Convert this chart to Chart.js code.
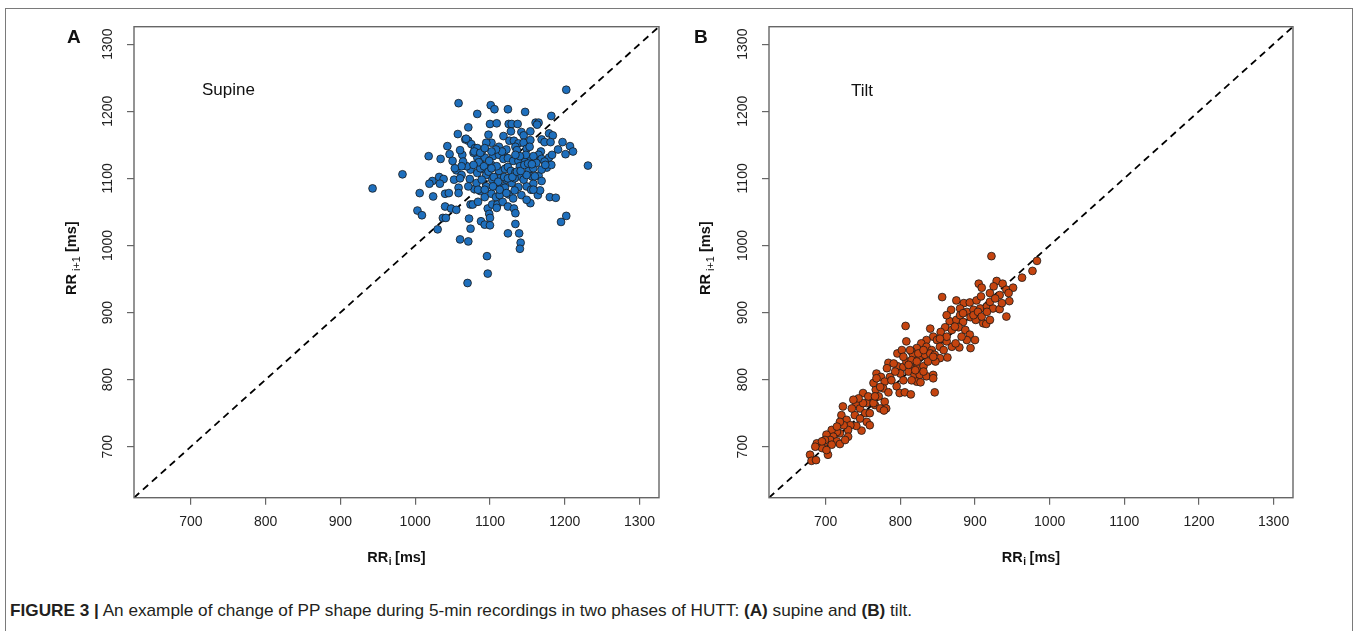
<!DOCTYPE html>
<html><head><meta charset="utf-8">
<script src="https://cdn.jsdelivr.net/npm/chart.js@4.4.1/dist/chart.umd.min.js"></script>
<style>
html,body{margin:0;padding:0;background:#fff;width:1358px;height:631px;overflow:hidden;font-family:"Liberation Sans",Arial,sans-serif}
#frame{position:absolute;left:5px;top:8px;width:1348px;height:700px;border:1.5px solid #7a7a7a;box-sizing:border-box}
canvas{position:absolute;top:0}
#caption{position:absolute;left:10px;top:601px;font-size:17px;line-height:20px;white-space:nowrap;transform-origin:0 0;color:#231f20}
</style></head>
<body>
<div id="frame"></div>
<canvas id="cA" width="680" height="580" style="left:0px"></canvas>
<canvas id="cB" width="678" height="580" style="left:680px"></canvas>
<div id="caption"><b>FIGURE 3 |</b> An example of change of PP shape during 5-min recordings in two phases of HUTT: <b>(A)</b> supine and <b>(B)</b> tilt.</div>
<script>
// ---- data ----
const axisRange = [624, 1326];
const tickValues = [700, 800, 900, 1000, 1100, 1200, 1300];
const identityLine = [624, 1326];

const supineRRi = [1202,1058,1101,1106,1124,1083,1147,1182,1100,1109,1071,1125,1129,1137,1161,1165,1163,1057,1098,1102,1118,1128,1142,1145,1154,1179,1184,1067,1071,1095,1126,1132,1138,1145,1154,1169,1173,1181,1197,1207,1043,1075,1080,1112,1119,1134,1136,1149,1153,1168,1165,1191,1201,1211,1018,1034,1046,1050,1063,1083,1087,1093,1104,1112,1118,1124,1131,1138,1147,1155,1160,1169,1179,1183,1231,983,943,1023,1019,1032,1038,1033,1055,1062,1052,1058,1074,1073,1083,1091,1095,1103,1112,1120,1124,1128,1134,1139,1152,1156,1165,1169,1158,1176,1182,1006,1024,1040,1045,1058,1079,1087,1093,1102,1108,1118,1120,1125,1131,1138,1149,1155,1164,1167,1180,1188,1003,1009,1040,1048,1055,1037,1041,1074,1077,1084,1097,1103,1110,1117,1124,1132,1134,1099,1100,1154,1030,1072,1074,1088,1093,1100,1134,1202,1195,1060,1071,1124,1139,1141,1140,1096,1097,1070,1078,1089,1102,1109,1113,1122,1129,1133,1145,1149,1140,1082,1089,1095,1109,1069,1064,1060,1087,1158,1162,1173,1109,1113,
  1068,1083,1079,1085,1092,1098,1102,1105,1111,1119,1124,1130,1136,1141,1146,1151,1156,1158,1148,1140,1134,1122,1116,1108,1102,1087,1099,1093,1078,1062,1053,1060,1071,1084,1093,1104,1113,1122,1133,1142,1149,1158,1160,1169,1174];
const supineRRi1 = [1232,1212,1209,1203,1203,1196,1199,1193,1181,1182,1176,1181,1181,1181,1183,1183,1180,1166,1165,1153,1163,1170,1169,1164,1170,1167,1164,1158,1156,1153,1156,1156,1152,1153,1157,1158,1154,1154,1154,1148,1148,1151,1145,1147,1140,1147,1142,1144,1147,1140,1135,1143,1136,1140,1133,1129,1136,1126,1135,1131,1123,1131,1133,1135,1129,1130,1126,1126,1125,1129,1127,1129,1131,1135,1119,1106,1085,1096,1092,1102,1099,1092,1112,1105,1098,1086,1113,1099,1108,1114,1105,1098,1111,1114,1117,1111,1109,1103,1113,1103,1104,1096,1092,1116,1120,1078,1073,1077,1078,1078,1084,1081,1072,1077,1072,1088,1086,1076,1070,1087,1088,1083,1075,1082,1072,1071,1052,1045,1058,1055,1053,1041,1041,1061,1061,1065,1055,1061,1061,1065,1058,1055,1048,1047,1041,1063,1024,1040,1025,1036,1031,1030,1032,1044,1035,1009,1006,1018,1018,1004,995,984,958,944,1138,1140,1120,1118,1100,1098,1093,1100,1098,1105,1118,1093,1098,1088,1088,1118,1125,1142,1115,1115,1123,1125,1056,1075,
  1159,1145,1140,1124,1118,1110,1115,1102,1095,1102,1100,1102,1110,1111,1120,1122,1121,1133,1135,1133,1135,1143,1140,1143,1140,1138,1126,1145,1120,1118,1115,1100,1088,1083,1083,1088,1083,1078,1082,1075,1068,1083,1103,1113,1120];

const tiltRRi = [922,983,977,963,929,905,909,937,942,951,925,920,933,945,946,942,856,875,885,893,902,908,868,880,889,898,907,916,924,933,866,875,884,894,901,911,915,920,860,869,878,887,893,900,889,854,840,844,849,869,879,894,874,862,807,835,828,822,815,835,842,853,858,808,796,802,817,826,833,840,846,853,863,784,796,804,813,822,831,837,847,808,815,782,768,774,786,800,811,819,826,835,844,822,827,844,846,779,788,795,777,784,799,806,814,750,767,771,762,755,766,779,773,781,778,741,746,753,759,739,746,755,759,748,741,723,721,728,733,730,730,719,715,708,710,701,706,715,719,697,695,703,688,686,679,681,687,880,873,884,898,904,909,920,927,936,916,862,882,862,853,813,824,831,844,804,811,822,831,820,793,804,815,791,764,773,768,757,764,750,744,735,737,766,724,719,715,726,699,695,708,701];
const tiltRRi1 = [984,977,962,952,947,943,937,943,934,937,939,929,926,929,917,894,923,918,914,915,918,924,904,906,901,904,906,909,906,905,887,889,886,893,889,884,883,889,878,874,878,874,867,859,859,871,876,864,859,849,848,847,854,857,880,859,854,847,842,849,844,849,844,857,839,844,837,834,837,839,837,832,833,825,820,819,820,817,820,827,827,827,829,817,809,804,804,809,812,807,807,805,807,797,796,802,781,797,799,790,787,781,780,781,778,780,785,775,770,765,762,767,757,757,754,763,757,750,750,747,742,737,732,724,731,760,747,740,732,725,715,720,722,725,715,718,710,708,704,703,698,688,705,700,688,679,680,896,879,899,896,901,894,916,921,914,901,896,864,864,861,844,839,844,834,834,822,827,812,814,812,799,799,824,795,789,802,775,765,765,772,757,770,775,732,737,730,710,710,708,703,695];

// ---- drawing ----
const FONT = '"Liberation Sans", Arial, sans-serif';

const decoPlugin = {
  id: 'deco',
  afterDraw(chart) {
    const o = chart.options.plugins.deco;
    const ctx = chart.ctx, a = chart.chartArea;
    ctx.save();
    ctx.strokeStyle = '#666';
    ctx.lineWidth = 1.4;
    ctx.strokeRect(a.left, a.top, a.right - a.left, a.bottom - a.top);
    ctx.fillStyle = '#111';
    ctx.font = 'bold 19px ' + FONT;
    ctx.textBaseline = 'middle';
    ctx.textAlign = 'left';
    ctx.fillText(o.letter, o.letterX, 38);
    ctx.font = '17px ' + FONT;
    ctx.fillText(o.phase, o.phaseX, o.phaseY);
    // x title: RR_i [ms]
    const cx = (a.left + a.right) / 2, ty = 558;
    const big = 'bold 14.5px ' + FONT, sub = 'bold 10px ' + FONT;
    ctx.font = big;
    const w1 = ctx.measureText('RR').width;
    const w3 = ctx.measureText(' [ms]').width;
    ctx.font = sub;
    const w2 = ctx.measureText('i').width;
    let x0 = cx - (w1 + w2 + w3) / 2;
    ctx.font = big;
    ctx.fillText('RR', x0, ty);
    ctx.font = sub;
    ctx.fillText('i', x0 + w1 + 0.5, ty + 4.5);
    ctx.font = big;
    ctx.fillText(' [ms]', x0 + w1 + w2, ty);
    // y title: RR i+1 [ms], rotated
    const cy = (a.top + a.bottom) / 2 - 4;
    ctx.translate(o.yTitleX, cy);
    ctx.rotate(-Math.PI / 2);
    const sub2 = '11px ' + FONT;
    ctx.font = big;
    const v1 = ctx.measureText('RR').width;
    const v3 = ctx.measureText(' [ms]').width;
    ctx.font = sub2;
    const v2 = ctx.measureText(' i+1').width;
    x0 = -(v1 + v2 + v3) / 2;
    ctx.font = big;
    ctx.fillText('RR', x0, 0);
    ctx.font = sub2;
    ctx.fillText(' i+1', x0 + v1, 4.5);
    ctx.font = big;
    ctx.fillText(' [ms]', x0 + v1 + v2, 0);
    ctx.restore();
  }
};

function makePanel(id, xs, ys, color, cfg) {
  const pts = xs.map((x, i) => ({ x: x, y: ys[i] }));
  const H = 580;
  const setTicks = s => { s.ticks = tickValues.map(v => ({ value: v })); };
  const tickFmt = v => String(v);
  return new Chart(document.getElementById(id), {
    type: 'scatter',
    data: {
      datasets: [
        {
          type: 'line',
          data: identityLine.map(v => ({ x: v, y: v })),
          borderColor: '#000', borderWidth: 1.8, borderDash: [7, 5],
          pointRadius: 0, fill: false, order: 2
        },
        {
          data: pts, backgroundColor: color, borderColor: '#1b1b1b',
          borderWidth: 0.8, pointRadius: 3.9, order: 1
        }
      ]
    },
    plugins: [decoPlugin],
    options: {
      responsive: false, animation: false, devicePixelRatio: 1,
      layout: { padding: { left: 0, top: 26.7, right: cfg.padRight, bottom: 0 } },
      plugins: { legend: { display: false }, tooltip: { enabled: false }, deco: cfg },
      scales: {
        x: {
          type: 'linear', min: axisRange[0], max: axisRange[1],
          afterBuildTicks: setTicks,
          afterFit: s => { s.height = H - 497.7; },
          border: { display: false },
          grid: { drawOnChartArea: false, drawTicks: true, tickLength: 7, color: '#666', lineWidth: 1.2 },
          ticks: { color: '#222', font: { family: FONT, size: 14 }, padding: 9, maxRotation: 0, autoSkip: false, callback: tickFmt }
        },
        y: {
          type: 'linear', min: axisRange[0], max: axisRange[1],
          afterBuildTicks: setTicks,
          afterFit: s => { s.width = cfg.chartLeft; },
          border: { display: false },
          grid: { drawOnChartArea: false, drawTicks: true, tickLength: 7, color: '#666', lineWidth: 1.2 },
          ticks: { color: '#222', font: { family: FONT, size: 14 }, padding: 3, minRotation: 90, maxRotation: 90, crossAlign: 'center', autoSkip: false, callback: tickFmt }
        }
      }
    }
  });
}

makePanel('cA', supineRRi, supineRRi1, '#1e6fbd', {
  letter: 'A', letterX: 67, phase: 'Supine', phaseX: 202, phaseY: 90, yTitleX: 72, chartLeft: 134, padRight: 21
});
makePanel('cB', tiltRRi, tiltRRi1, '#c5440f', {
  letter: 'B', letterX: 14, phase: 'Tilt', phaseX: 171, phaseY: 91, yTitleX: 26, chartLeft: 89, padRight: 65
});

const cap = document.getElementById('caption');
const cw = cap.getBoundingClientRect().width;
cap.style.transform = 'scaleX(' + (902 / cw) + ')';
</script>
</body></html>
